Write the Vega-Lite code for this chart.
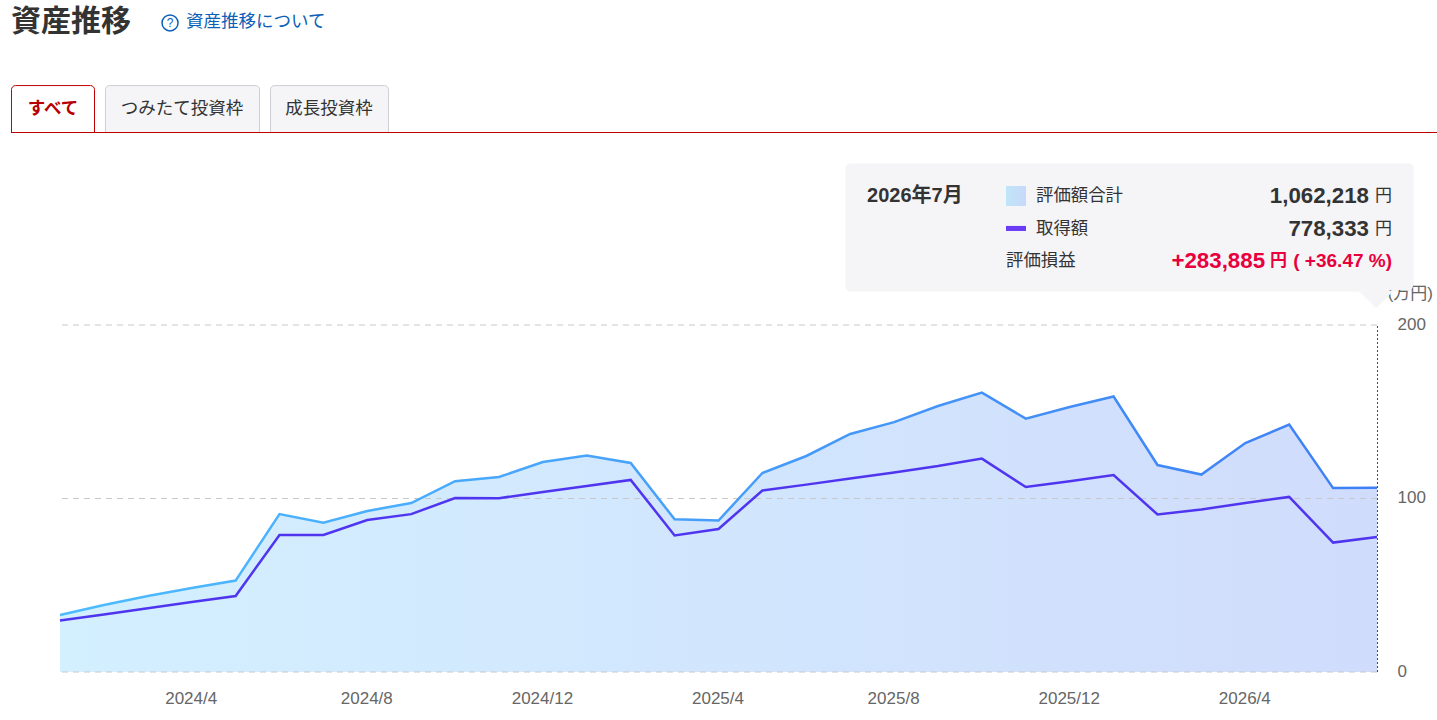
{
  "$schema": "https://vega.github.io/schema/vega-lite/v6.json",
  "width": 1317,
  "height": 347,
  "autosize": {"type": "none"},
  "padding": {"left": 60, "top": 325, "right": 60, "bottom": 48},
  "background": "white",
  "config": {"font": "Liberation Sans, Noto Sans CJK JP", "view": {"stroke": null}},
  "data": {
    "values": [
      {"t": 0, "month": "2024/1", "total": 32.9, "cost": 29.7},
      {"t": 1, "month": "2024/2", "total": 38.6, "cost": 33.2},
      {"t": 2, "month": "2024/3", "total": 43.8, "cost": 36.8},
      {"t": 3, "month": "2024/4", "total": 48.4, "cost": 40.3},
      {"t": 4, "month": "2024/5", "total": 52.7, "cost": 43.8},
      {"t": 5, "month": "2024/6", "total": 91, "cost": 79},
      {"t": 6, "month": "2024/7", "total": 86, "cost": 79},
      {"t": 7, "month": "2024/8", "total": 92.8, "cost": 87.6},
      {"t": 8, "month": "2024/9", "total": 97.4, "cost": 91},
      {"t": 9, "month": "2024/10", "total": 110, "cost": 100.3},
      {"t": 10, "month": "2024/11", "total": 112.4, "cost": 100.2},
      {"t": 11, "month": "2024/12", "total": 121, "cost": 103.7},
      {"t": 12, "month": "2025/1", "total": 124.8, "cost": 107.2},
      {"t": 13, "month": "2025/2", "total": 120.5, "cost": 110.7},
      {"t": 14, "month": "2025/3", "total": 88, "cost": 78.7},
      {"t": 15, "month": "2025/4", "total": 87.3, "cost": 82.4},
      {"t": 16, "month": "2025/5", "total": 114.7, "cost": 104.6},
      {"t": 17, "month": "2025/6", "total": 124.5, "cost": 108},
      {"t": 18, "month": "2025/7", "total": 137.2, "cost": 111.5},
      {"t": 19, "month": "2025/8", "total": 144, "cost": 115},
      {"t": 20, "month": "2025/9", "total": 153.3, "cost": 118.7},
      {"t": 21, "month": "2025/10", "total": 161, "cost": 123},
      {"t": 22, "month": "2025/11", "total": 146, "cost": 106.6},
      {"t": 23, "month": "2025/12", "total": 152.7, "cost": 110},
      {"t": 24, "month": "2026/1", "total": 158.8, "cost": 113.5},
      {"t": 25, "month": "2026/2", "total": 119.3, "cost": 90.8},
      {"t": 26, "month": "2026/3", "total": 113.8, "cost": 93.7},
      {"t": 27, "month": "2026/4", "total": 132, "cost": 97.4},
      {"t": 28, "month": "2026/5", "total": 142.6, "cost": 100.9},
      {"t": 29, "month": "2026/6", "total": 106, "cost": 74.6},
      {"t": 30, "month": "2026/7", "total": 106.2, "cost": 77.8}
    ]
  },
  "layer": [
    {
      "mark": {
        "type": "area",
        "color": {"gradient": "linear", "x1": 0, "x2": 1, "y1": 0, "y2": 0, "stops": [{"offset": 0, "color": "#d3f0ff"}, {"offset": 1, "color": "#d0dcfc"}]}
      },
      "encoding": {
        "x": {
          "field": "t",
          "type": "quantitative",
          "scale": {"domain": [0, 30], "nice": false, "zero": false},
          "axis": {
            "values": [3, 7, 11, 15, 19, 23, 27],
            "labelExpr": "(2024 + floor(datum.value / 12)) + '/' + (datum.value % 12 + 1)",
            "title": null, "grid": false, "domain": false, "ticks": false,
            "labelFontSize": 17, "labelColor": "#666666", "labelPadding": 18, "labelOverlap": false, "labelFlush": false, "labelOffset": -1
          }
        },
        "y": {
          "field": "total",
          "type": "quantitative",
          "scale": {"domain": [0, 200], "nice": false},
          "axis": {
            "orient": "right", "values": [0, 100, 200],
            "title": null, "grid": false, "domain": false, "ticks": false,
            "labelFontSize": 17, "labelColor": "#666666", "labelPadding": 20, "labelFlush": false, "labelOffset": -1
          }
        },
        "y2": {"datum": 0}
      }
    },
    {
      "data": {"values": [{"v": 0}, {"v": 100}, {"v": 200}]},
      "mark": {"type": "rule", "color": "#c8c8cc", "strokeWidth": 1, "strokeDash": [6, 5]},
      "encoding": {"y": {"field": "v", "type": "quantitative"}}
    },
    {
      "mark": {
        "type": "line",
        "strokeWidth": 2.5,
        "color": {"gradient": "linear", "x1": 0, "x2": 1, "y1": 0, "y2": 0, "stops": [{"offset": 0, "color": "#4dbcff"}, {"offset": 1, "color": "#3f7ff5"}]}
      },
      "encoding": {"x": {"field": "t", "type": "quantitative"}, "y": {"field": "total", "type": "quantitative"}}
    },
    {
      "mark": {"type": "line", "strokeWidth": 2.5, "color": "#4f35f0"},
      "encoding": {"x": {"field": "t", "type": "quantitative"}, "y": {"field": "cost", "type": "quantitative"}}
    },
    {
      "data": {"values": [{"month": "2026/7"}]},
      "mark": {"type": "rule", "color": "#1f4f94", "strokeWidth": 1, "strokeDash": [2, 2]},
      "encoding": {"x": {"datum": 30.011, "type": "quantitative"}, "y": {"datum": 0, "type": "quantitative"}, "y2": {"datum": 200}}
    },
    {
      "data": {"values": [{"label": "(万円)"}]},
      "mark": {"type": "text", "align": "right", "baseline": "middle", "fontSize": 17, "color": "#666666"},
      "encoding": {"x": {"datum": 31.276, "type": "quantitative"}, "y": {"datum": 217.9, "type": "quantitative"}, "text": {"field": "label"}}
    },
    {
      "data": {"values": [{"label": "資産推移"}]},
      "mark": {"type": "text", "align": "left", "baseline": "middle", "fontSize": 30, "fontWeight": "bold", "color": "#333333"},
      "encoding": {"x": {"datum": -1.116, "type": "quantitative"}, "y": {"datum": 374.6, "type": "quantitative"}, "text": {"field": "label"}}
    },
    {
      "data": {"values": [{"label": "資産推移について"}]},
      "mark": {"type": "text", "align": "left", "baseline": "middle", "fontSize": 17.5, "color": "#0b5fb8"},
      "encoding": {"x": {"datum": 2.87, "type": "quantitative"}, "y": {"datum": 374.6, "type": "quantitative"}, "text": {"field": "label"}}
    },
    {
      "data": {"values": [{"label": "?"}]},
      "mark": {"type": "point", "shape": "circle", "size": 256, "filled": false, "stroke": "#0b5fb8", "strokeWidth": 1.5, "opacity": 1},
      "encoding": {"x": {"datum": 2.506, "type": "quantitative"}, "y": {"datum": 374.1, "type": "quantitative"}}
    },
    {
      "data": {"values": [{"label": "?"}]},
      "mark": {"type": "text", "align": "center", "baseline": "middle", "fontSize": 12, "color": "#0b5fb8"},
      "encoding": {"x": {"datum": 2.506, "type": "quantitative"}, "y": {"datum": 374.1, "type": "quantitative"}, "text": {"field": "label"}}
    },
    {
      "data": {"values": [{"tab": "つみたて投資枠"}]},
      "mark": {"type": "rect", "fill": "#f5f5f8", "stroke": "#cfcfd3", "strokeWidth": 1, "cornerRadiusTopLeft": 4, "cornerRadiusTopRight": 4},
      "encoding": {"x": {"datum": 1.036, "type": "quantitative"}, "x2": {"datum": 4.545}, "y": {"datum": 338.0, "type": "quantitative"}, "y2": {"datum": 310.95}}
    },
    {
      "data": {"values": [{"tab": "成長投資枠"}]},
      "mark": {"type": "rect", "fill": "#f5f5f8", "stroke": "#cfcfd3", "strokeWidth": 1, "cornerRadiusTopLeft": 4, "cornerRadiusTopRight": 4},
      "encoding": {"x": {"datum": 4.795, "type": "quantitative"}, "x2": {"datum": 7.483}, "y": {"datum": 338.0, "type": "quantitative"}, "y2": {"datum": 310.95}}
    },
    {
      "data": {"values": [{"tab": "すべて"}]},
      "mark": {"type": "rect", "fill": "#ffffff", "stroke": "#c00000", "strokeWidth": 1, "cornerRadiusTopLeft": 4, "cornerRadiusTopRight": 4},
      "encoding": {"x": {"datum": -1.105, "type": "quantitative"}, "x2": {"datum": 0.786}, "y": {"datum": 338.0, "type": "quantitative"}, "y2": {"datum": 310.95}}
    },
    {
      "data": {"values": [{"tab": "line"}]},
      "mark": {"type": "rule", "color": "#c00000", "strokeWidth": 1},
      "encoding": {"x": {"datum": -1.116, "type": "quantitative"}, "x2": {"datum": 31.367}, "y": {"datum": 310.95, "type": "quantitative"}}
    },
    {
      "data": {"values": [{"label": "すべて"}]},
      "mark": {"type": "text", "align": "center", "baseline": "middle", "fontSize": 17.5, "fontWeight": "bold", "color": "#b80000"},
      "encoding": {"x": {"datum": -0.159, "type": "quantitative"}, "y": {"datum": 324.5, "type": "quantitative"}, "text": {"field": "label"}}
    },
    {
      "data": {"values": [{"label": "つみたて投資枠"}]},
      "mark": {"type": "text", "align": "center", "baseline": "middle", "fontSize": 17.5, "color": "#333333"},
      "encoding": {"x": {"datum": 2.779, "type": "quantitative"}, "y": {"datum": 324.5, "type": "quantitative"}, "text": {"field": "label"}}
    },
    {
      "data": {"values": [{"label": "成長投資枠"}]},
      "mark": {"type": "text", "align": "center", "baseline": "middle", "fontSize": 17.5, "color": "#333333"},
      "encoding": {"x": {"datum": 6.128, "type": "quantitative"}, "y": {"datum": 324.5, "type": "quantitative"}, "text": {"field": "label"}}
    },
    {
      "data": {"values": [{"box": "shadow"}]},
      "mark": {"type": "rect", "fill": "#000000", "opacity": 0.035, "cornerRadius": 5},
      "encoding": {"x": {"datum": 17.89, "type": "quantitative"}, "x2": {"datum": 30.84}, "y": {"datum": 293.2, "type": "quantitative"}, "y2": {"datum": 219.2}}
    },
    {
      "data": {"values": [{"box": "tooltip"}]},
      "mark": {"type": "rect", "fill": "#f5f5f8", "cornerRadius": 4},
      "encoding": {"x": {"datum": 17.904, "type": "quantitative"}, "x2": {"datum": 30.82}, "y": {"datum": 292.8, "type": "quantitative"}, "y2": {"datum": 220.2}}
    },
    {
      "data": {"values": [{"box": "arrow"}]},
      "mark": {"type": "point", "shape": "M-1,-1L1,-1L0,0Z", "size": 1225, "filled": true, "fill": "#f5f5f8", "strokeWidth": 0, "opacity": 1},
      "encoding": {"x": {"datum": 29.98, "type": "quantitative"}, "y": {"datum": 209.6, "type": "quantitative"}}
    },
    {
      "data": {"values": [{"label": "2026年7月"}]},
      "mark": {"type": "text", "align": "left", "baseline": "middle", "fontSize": 20, "fontWeight": "bold", "color": "#333333"},
      "encoding": {"x": {"datum": 18.383, "type": "quantitative"}, "y": {"datum": 274.6, "type": "quantitative"}, "text": {"field": "label"}}
    },
    {
      "data": {"values": [{"series": "評価額合計"}]},
      "mark": {
        "type": "rect",
        "color": {"gradient": "linear", "x1": 0, "x2": 1, "y1": 0, "y2": 0, "stops": [{"offset": 0, "color": "#bfe6f8"}, {"offset": 1, "color": "#c8d8f8"}]}
      },
      "encoding": {"x": {"datum": 21.549, "type": "quantitative"}, "x2": {"datum": 22.005}, "y": {"datum": 280.1, "type": "quantitative"}, "y2": {"datum": 268.6}}
    },
    {
      "data": {"values": [{"series": "取得額"}]},
      "mark": {"type": "rect", "color": "#6a3cf5"},
      "encoding": {"x": {"datum": 21.549, "type": "quantitative"}, "x2": {"datum": 22.005}, "y": {"datum": 257.1, "type": "quantitative"}, "y2": {"datum": 254.2}}
    },
    {
      "data": {"values": [{"label": "評価額合計"}]},
      "mark": {"type": "text", "align": "left", "baseline": "middle", "fontSize": 17.4, "color": "#333333"},
      "encoding": {"x": {"datum": 22.232, "type": "quantitative"}, "y": {"datum": 274.6, "type": "quantitative"}, "text": {"field": "label"}}
    },
    {
      "data": {"values": [{"label": "取得額"}]},
      "mark": {"type": "text", "align": "left", "baseline": "middle", "fontSize": 17.4, "color": "#333333"},
      "encoding": {"x": {"datum": 22.232, "type": "quantitative"}, "y": {"datum": 255.4, "type": "quantitative"}, "text": {"field": "label"}}
    },
    {
      "data": {"values": [{"label": "評価損益"}]},
      "mark": {"type": "text", "align": "left", "baseline": "middle", "fontSize": 17.4, "color": "#333333"},
      "encoding": {"x": {"datum": 21.549, "type": "quantitative"}, "y": {"datum": 237.0, "type": "quantitative"}, "text": {"field": "label"}}
    },
    {
      "data": {"values": [{"label": "1,062,218"}]},
      "mark": {"type": "text", "align": "right", "baseline": "middle", "fontSize": 22.3, "fontWeight": "bold", "color": "#333333"},
      "encoding": {"x": {"datum": 29.818, "type": "quantitative"}, "y": {"datum": 274.6, "type": "quantitative"}, "text": {"field": "label"}}
    },
    {
      "data": {"values": [{"label": "778,333"}]},
      "mark": {"type": "text", "align": "right", "baseline": "middle", "fontSize": 22.3, "fontWeight": "bold", "color": "#333333"},
      "encoding": {"x": {"datum": 29.818, "type": "quantitative"}, "y": {"datum": 255.6, "type": "quantitative"}, "text": {"field": "label"}}
    },
    {
      "data": {"values": [{"label": "円"}]},
      "mark": {"type": "text", "align": "right", "baseline": "middle", "fontSize": 17, "color": "#333333"},
      "encoding": {"x": {"datum": 30.342, "type": "quantitative"}, "y": {"datum": 274.3, "type": "quantitative"}, "text": {"field": "label"}}
    },
    {
      "data": {"values": [{"label": "円"}]},
      "mark": {"type": "text", "align": "right", "baseline": "middle", "fontSize": 17, "color": "#333333"},
      "encoding": {"x": {"datum": 30.342, "type": "quantitative"}, "y": {"datum": 255.3, "type": "quantitative"}, "text": {"field": "label"}}
    },
    {
      "data": {"values": [{"label": "+283,885"}]},
      "mark": {"type": "text", "align": "right", "baseline": "middle", "fontSize": 22.3, "fontWeight": "bold", "color": "#e8003d"},
      "encoding": {"x": {"datum": 27.45, "type": "quantitative"}, "y": {"datum": 237.0, "type": "quantitative"}, "text": {"field": "label"}}
    },
    {
      "data": {"values": [{"label": "円"}]},
      "mark": {"type": "text", "align": "left", "baseline": "middle", "fontSize": 17, "fontWeight": "bold", "color": "#e8003d"},
      "encoding": {"x": {"datum": 27.563, "type": "quantitative"}, "y": {"datum": 236.6, "type": "quantitative"}, "text": {"field": "label"}}
    },
    {
      "data": {"values": [{"label": "( +36.47 %)"}]},
      "mark": {"type": "text", "align": "right", "baseline": "middle", "fontSize": 19, "fontWeight": "bold", "color": "#e8003d"},
      "encoding": {"x": {"datum": 30.342, "type": "quantitative"}, "y": {"datum": 236.6, "type": "quantitative"}, "text": {"field": "label"}}
    }
  ]
}
